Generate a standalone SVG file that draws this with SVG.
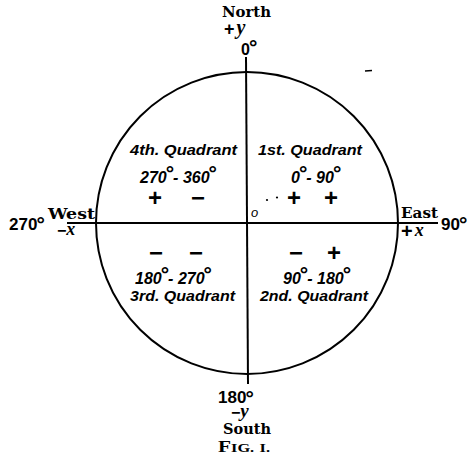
<svg xmlns="http://www.w3.org/2000/svg" width="467" height="460" viewBox="0 0 467 460">
<style>
.ln{stroke:#000;stroke-width:2;fill:none}
.slab{font-family:"DejaVu Serif","Liberation Serif",serif;font-weight:bold;font-size:15px;fill:#000}
.num{font-family:"Liberation Sans",Arial,sans-serif;font-weight:bold;fill:#000}
.q{font-family:"Liberation Sans",Arial,sans-serif;font-weight:bold;font-style:italic;fill:#000}
.sg{font-family:"Liberation Sans",Arial,sans-serif;font-weight:bold;font-size:24px;fill:#000;text-anchor:middle}
.it{font-family:"Liberation Serif","Times New Roman",serif;font-weight:bold;font-style:italic}
.d{font-family:"Liberation Sans",Arial,sans-serif;font-weight:bold;font-style:normal}
</style>
<g id="connectors">
<circle class="ln" cx="247" cy="223" r="151"/>
<line class="ln" x1="67" y1="223" x2="438" y2="223"/>
<line class="ln" x1="246" y1="57" x2="248" y2="384"/>
<line x1="365" y1="71" x2="372" y2="70.5" stroke="#000" stroke-width="1.5"/>
</g>
<g id="north">
<text class="slab" x="222" y="17" textLength="49" lengthAdjust="spacingAndGlyphs">North</text>
<text class="num" x="224" y="35" style="font-size:18px">+<tspan class="it" dx="2" dy="-1" style="font-size:20px">y</tspan></text>
<text class="num" x="241" y="55" style="font-size:16px">0<tspan class="d" dx="-1" dy="-1" style="font-size:21px">°</tspan></text>
</g>
<g id="west">
<text class="num" x="9" y="230" style="font-size:17px">270<tspan class="d" dx="-1" dy="1" style="font-size:21px">°</tspan></text>
<text class="slab" x="48" y="219" textLength="47" lengthAdjust="spacingAndGlyphs">West</text>
<text class="num" x="57" y="236" style="font-size:16px">−<tspan class="it" dx="0" dy="-1" style="font-size:18px">x</tspan></text>
</g>
<g id="east">
<text class="slab" x="401" y="218" textLength="37" lengthAdjust="spacingAndGlyphs">East</text>
<text class="num" x="441" y="230" style="font-size:17px">90<tspan class="d" dx="-1" dy="1" style="font-size:21px">°</tspan></text>
<text class="num" x="401" y="238" style="font-size:20px">+<tspan class="it" dx="2" dy="-2" style="font-size:18px">x</tspan></text>
</g>
<g id="quadrant4">
<text class="q" x="130" y="155" style="font-size:14px" textLength="107" lengthAdjust="spacingAndGlyphs">4th. Quadrant</text>
<text class="q" x="140" y="183" style="font-size:16px">270<tspan class="d" dx="-1" dy="-3" style="font-size:21px">°</tspan><tspan dx="-1" dy="3">- 360</tspan><tspan class="d" dx="-1" dy="-3" style="font-size:21px">°</tspan></text>
<text class="sg" x="155" y="206">+</text>
<text class="sg" x="198" y="206">−</text>
</g>
<g id="quadrant1">
<text class="q" x="258" y="155" style="font-size:14px" textLength="104" lengthAdjust="spacingAndGlyphs">1st. Quadrant</text>
<text class="q" x="291" y="183" style="font-size:16px">0<tspan class="d" dx="-1" dy="-3" style="font-size:21px">°</tspan><tspan dx="-1" dy="3">- 90</tspan><tspan class="d" dx="-1" dy="-3" style="font-size:21px">°</tspan></text>
<circle cx="267" cy="200" r="1.1" fill="#000"/>
<circle cx="277" cy="197.5" r="1.1" fill="#000"/>
<text class="sg" x="294" y="206">+</text>
<text class="sg" x="331" y="206">+</text>
</g>
<g id="origin">
<text class="q" x="251" y="217" style="font-size:13px;font-weight:normal">o</text>
</g>
<g id="quadrant3">
<text class="sg" x="156" y="261">−</text>
<text class="sg" x="196" y="261">−</text>
<text class="q" x="135" y="284" style="font-size:16px">180<tspan class="d" dx="-1" dy="-3" style="font-size:21px">°</tspan><tspan dx="-1" dy="3">- 270</tspan><tspan class="d" dx="-1" dy="-3" style="font-size:21px">°</tspan></text>
<text class="q" x="130" y="301" style="font-size:14px" textLength="105" lengthAdjust="spacingAndGlyphs">3rd. Quadrant</text>
</g>
<g id="quadrant2">
<text class="sg" x="296" y="261">−</text>
<text class="sg" x="334" y="261">+</text>
<text class="q" x="283" y="284" style="font-size:16px">90<tspan class="d" dx="-1" dy="-3" style="font-size:21px">°</tspan><tspan dx="-1" dy="3">- 180</tspan><tspan class="d" dx="-1" dy="-3" style="font-size:21px">°</tspan></text>
<text class="q" x="260" y="301" style="font-size:14px" textLength="108" lengthAdjust="spacingAndGlyphs">2nd. Quadrant</text>
</g>
<g id="south">
<text class="num" x="218" y="403" style="font-size:17px">180<tspan class="d" dx="-1" dy="2" style="font-size:21px">°</tspan></text>
<text class="num" x="231" y="418" style="font-size:16px">−<tspan class="it" dy="-1" style="font-size:19px">y</tspan></text>
<text class="slab" x="223" y="434" textLength="48" lengthAdjust="spacingAndGlyphs">South</text>
</g>
<g id="caption">
<text x="218" y="452" font-family="Liberation Serif, serif" font-weight="bold" font-size="17" textLength="52" lengthAdjust="spacingAndGlyphs">F<tspan font-size="13">IG.</tspan> <tspan font-size="13">I.</tspan></text>
</g>
</svg>
